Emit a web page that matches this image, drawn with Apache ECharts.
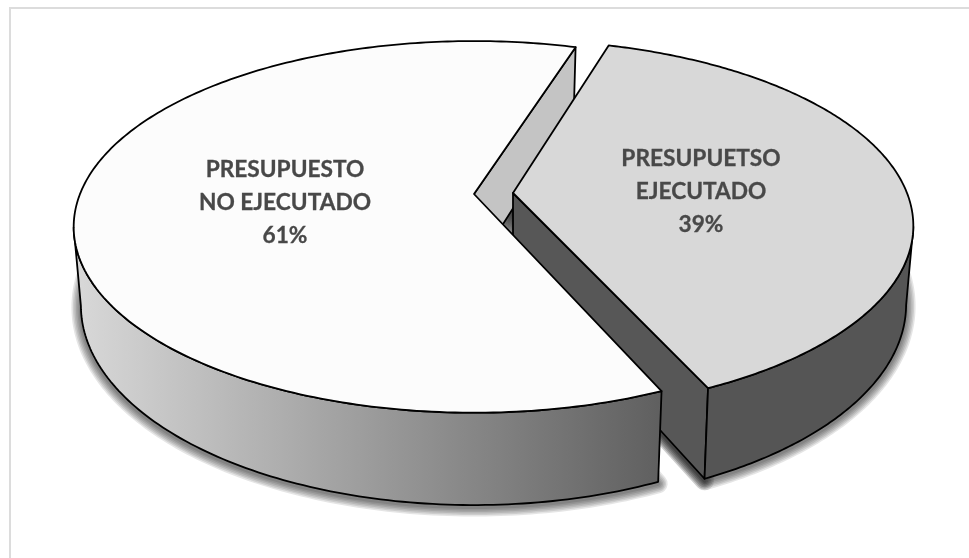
<!DOCTYPE html>
<html><head><meta charset="utf-8">
<style>html,body{margin:0;padding:0;background:#fff}#c{width:969px;height:558px}</style>
<script src="https://cdn.jsdelivr.net/npm/echarts@6/dist/echarts.min.js"></script>
</head><body><div id="c"></div>
<script>
// data
var categories = ['PRESUPUETSO\nEJECUTADO', 'PRESUPUESTO\nNO EJECUTADO'];
var values = [38.6, 61.4];

// layout of the tilted pie (perspective projection of a disc)
var startAngles = [16.5, 156.5], cx = 474, cy = 194, rx = 394, ry = 180, persp = 0.177, depth = 76, baseScale = 0.982;
var offsets = [[39, -1], [0, 0]];
var labelPos = [[701, 192], [285, 203]];
var fills = ['#d8d8d8', '#fcfcfc'];

function project(a, off, bottom) {
  var r = a * Math.PI / 180, X = Math.sin(r), Y = -Math.cos(r), w = 1 - persp * Y, s = bottom ? baseScale : 1;
  return [cx + off[0] + rx * X / w * s, cy + off[1] + ry * Y / w + (bottom ? depth / w : 0)];
}
function arc(a0, a1, off, bottom) {
  var pts = [], n = 240;
  for (var i = 0; i <= n; i++) pts.push(project(a0 + (a1 - a0) * i / n, off, bottom));
  return pts;
}
function extremeIndex(pts, sign) {
  var k = 0;
  pts.forEach(function (p, i) { if (sign * p[0] > sign * pts[k][0]) k = i; });
  return k;
}
var total = values.reduce(function (s, v) { return s + v; }, 0);
var line = { stroke: '#000', lineWidth: 1.8, lineJoin: 'round' };
function st(fill) { return Object.assign({ fill: fill }, line); }
function poly(points, style, z2) { return { type: 'polygon', shape: { points: points }, style: style, z2: z2, silent: true }; }
var softWidths = [19, 16, 13, 10, 7, 4];
function softShadow(points) {
  var moved = points.map(function (p) { return [p[0], p[1] + 2]; });
  return softWidths.map(function (lw) {
    return poly(moved, { fill: 'rgba(0,0,0,0)', stroke: 'rgba(0,0,0,0.1)', lineWidth: lw, lineJoin: 'round' }, 0);
  });
}

function renderItem(params, api) {
  var i = params.dataIndex;
  var a0 = startAngles[i], a1 = a0 + values[i] / total * 360;
  var off = offsets[i], top = arc(a0, a1, off, false), bot = arc(a0, a1, off, true);
  var apexT = [cx + off[0], cy + off[1]], apexB = [cx + off[0], cy + off[1] + depth];
  var kids = softShadow([apexB].concat(bot));
  if (i === 0) {
    // right slice: cut face towards the viewer, outer wall, top
    var end = top[top.length - 1], endB = bot[bot.length - 1];
    kids = kids.concat(softShadow([apexT, end, endB, apexB]));
    kids.push(poly([apexT, end, endB, apexB], st('#575757'), 3));
    var t = extremeIndex(top, 1), b = extremeIndex(bot, 1);
    kids.push(poly(top.slice(t).concat(bot.slice(b).reverse()), st('#555555'), 3));
    kids.push(poly([apexT].concat(top), st(fills[i]), 4));
  } else {
    // left slice: far cut face, outer wall, top
    var far = top[top.length - 1], farB = bot[bot.length - 1];
    kids.push(poly([apexT, far, farB, apexB], st('#c4c4c4'), 2));
    var t2 = extremeIndex(top, -1), b2 = extremeIndex(bot, -1);
    kids.push(poly(top.slice(0, t2 + 1).concat(bot.slice(0, b2 + 1).reverse()), st(new echarts.graphic.LinearGradient(0, 0, 1, 0, [
      { offset: 0, color: '#d9d9d9' }, { offset: 1, color: '#5f5f5f' }
    ])), 5));
    kids.push(poly([apexT].concat(top), st(fills[i]), 6));
  }
  kids.push({
    type: 'text', z2: 10, silent: true,
    style: {
      x: labelPos[i][0], y: labelPos[i][1], align: 'center', verticalAlign: 'middle',
      text: categories[i] + '\n' + Math.round(values[i] / total * 100) + '%',
      fill: '#484848', font: 'bold 22.7px Lato', lineHeight: 33, stroke: '#484848', lineWidth: 0.3
    }
  });
  return { type: 'group', children: kids };
}

var chart = echarts.init(document.getElementById('c'), null, { renderer: 'canvas' });
chart.setOption({
  animation: false,
  backgroundColor: '#fff',
  graphic: [{ type: 'polyline', z: -1, silent: true, shape: { points: [[10, 558], [10, 8], [969, 8]] }, style: { fill: 'none', stroke: '#dcdcdc', lineWidth: 2 } }],
  series: [{
    type: 'custom', coordinateSystem: 'none', silent: true, clip: false,
    data: values.map(function (v, i) { return { name: categories[i], value: v }; }),
    renderItem: renderItem
  }]
});
</script></body></html>
